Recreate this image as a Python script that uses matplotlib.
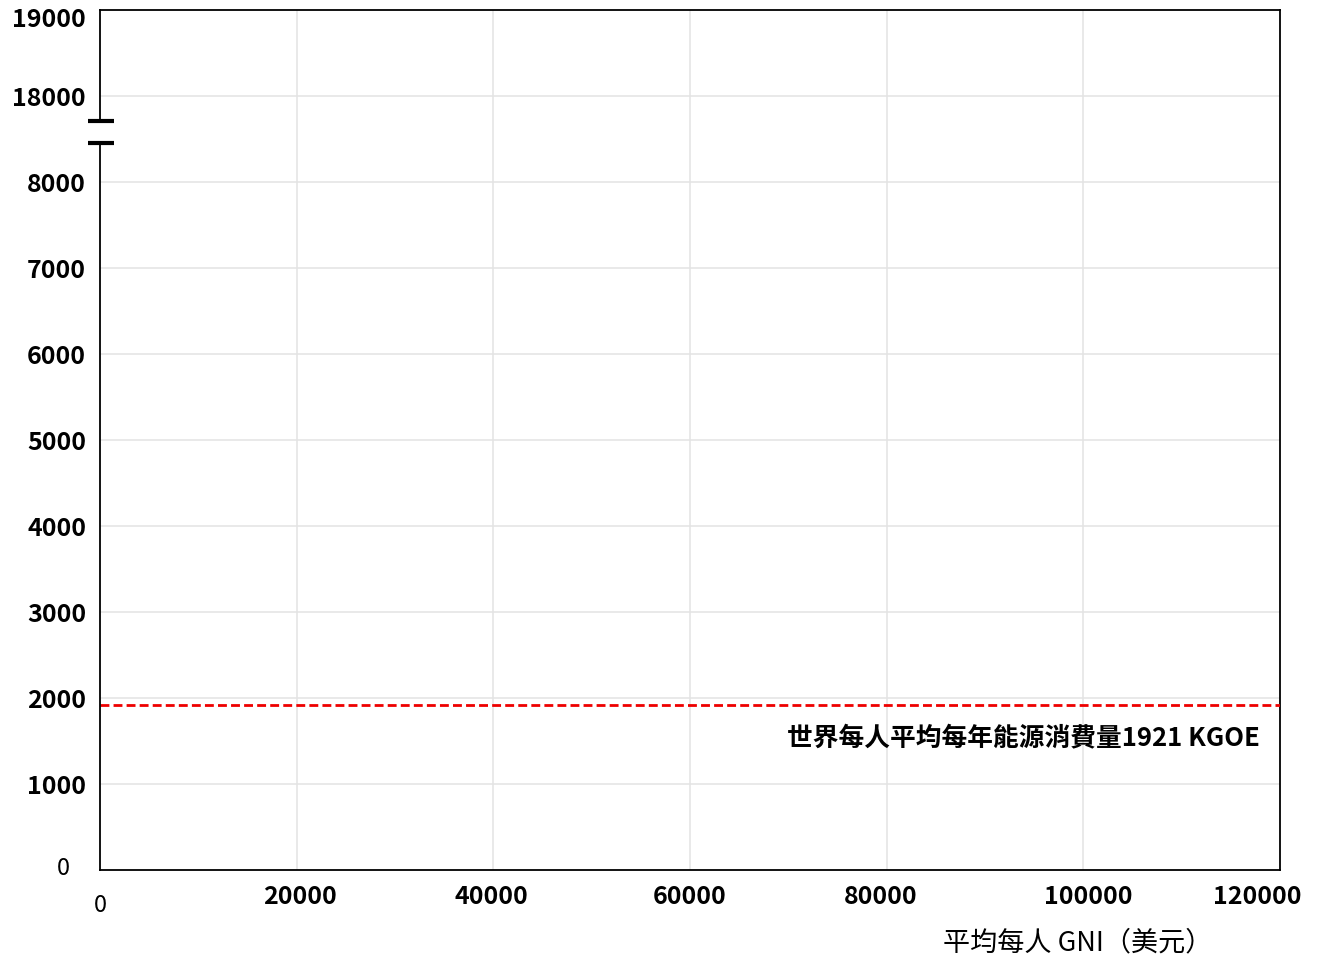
import matplotlib

matplotlib.use("Agg")
import matplotlib.pyplot as plt
import matplotlib.transforms as mtransforms

plt.rcParams["font.family"] = ["Noto Sans CJK TC", "DejaVu Sans"]

# y axis is broken: values above the break are drawn 9000 lower
Y_SHIFT = 9000
y_ticks = [0, 1000, 2000, 3000, 4000, 5000, 6000, 7000, 8000, 18000, 19000]
x_ticks = [0, 20000, 40000, 60000, 80000, 100000, 120000]
world_avg = 1921
avg_label = "世界每人平均每年能源消費量1921 KGOE"
x_title = "平均每人 GNI（美元）"


def yshow(v):
    return v - Y_SHIFT if v > 8000 else v


fig = plt.figure(figsize=(13.21, 9.6), dpi=100)
ax = fig.add_axes([100 / 1321, 90 / 960, 1180 / 1321, 860 / 960])
ax.set_xlim(0, 120000)
ax.set_ylim(0, 10000)
ax.set_xticks([])
ax.set_yticks([])

# grid
for v in y_ticks[1:-1]:
    ax.axhline(yshow(v), color="#e3e3e3", lw=1.1, zorder=0)
for v in x_ticks[1:-1]:
    ax.axvline(v, color="#e3e3e3", lw=1.1, zorder=0)

for s in ["top", "right", "bottom"]:
    ax.spines[s].set_color("black")
    ax.spines[s].set_linewidth(1.3)
ax.spines["left"].set_visible(False)

# left spine in two pieces with break marks
lo, hi = 8453, 8709
ax.plot([0, 0], [0, lo], color="black", lw=1.3, clip_on=False, zorder=5)
ax.plot([0, 0], [hi, 10000], color="black", lw=1.3, clip_on=False, zorder=5)
brk = mtransforms.blended_transform_factory(ax.transAxes, ax.transData)
for yy in (lo, hi):
    ax.plot([-0.0102, 0.0119], [yy, yy], color="black", lw=3, transform=brk,
            clip_on=False, solid_capstyle="butt", zorder=6)

# world average line
ax.axhline(world_avg, color="#ee0000", lw=2, linestyle=(0, (3.2, 1.5)), zorder=3)
ax.text(0.983, 1540, avg_label, transform=brk, ha="right", va="center",
        fontsize=18.5, fontweight="bold")

# y tick labels
ylab = mtransforms.blended_transform_factory(fig.transFigure, ax.transData)
for v in y_ticks:
    if v == 0:
        ax.text(70 / 1321, 20, "0", transform=ylab, ha="right", va="center", fontsize=17)
        continue
    yy = yshow(v)
    if v == 19000:
        yy -= 90
    ax.text(86 / 1321, yy - 30, str(v), transform=ylab, ha="right", va="center",
            fontsize=18, fontweight="bold")

# x tick labels
xlab = mtransforms.blended_transform_factory(ax.transData, fig.transFigure)
x_lab_pos = {0: 100, 20000: 300, 40000: 491, 60000: 690, 80000: 881,
             100000: 1088, 120000: 1257}
for v in x_ticks:
    px = x_lab_pos[v]
    xf = (px - 100) / 1180 * 120000
    if v == 0:
        ax.text(xf, 1 - 906 / 960, "0", transform=xlab, ha="center", va="center", fontsize=17)
    else:
        ax.text(xf, 1 - 897 / 960, str(v), transform=xlab, ha="center", va="center",
                fontsize=18, fontweight="bold")

fig.text(1078 / 1321, 1 - 943 / 960, x_title, ha="center", va="center", fontsize=19.5)

fig.savefig("out.png", dpi=100)
